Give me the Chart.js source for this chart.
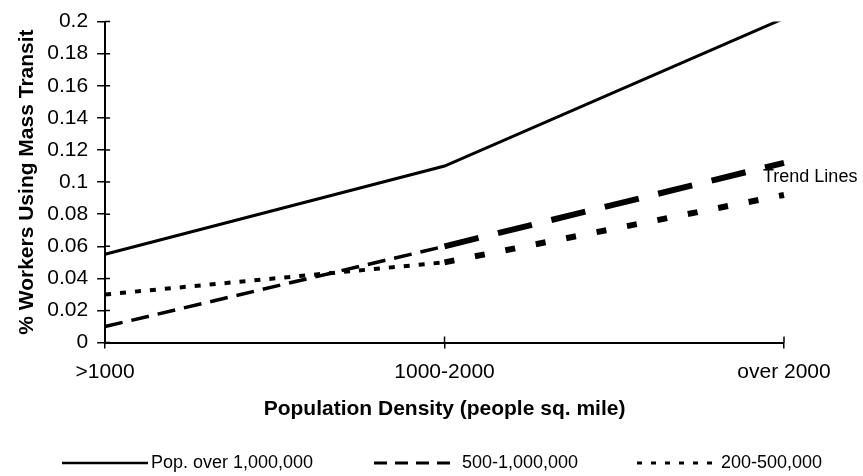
<!DOCTYPE html>
<html>
<head>
<meta charset="utf-8">
<title>Mass transit use by population density</title>
<script src="https://cdn.jsdelivr.net/npm/chart.js@4.4.1/dist/chart.umd.min.js"></script>
<style>
  html, body { margin: 0; padding: 0; background: #fff; }
  #wrap { width: 863px; height: 476px; position: relative; }
</style>
</head>
<body>
<div id="wrap"><canvas id="myChart"></canvas></div>
<script>
// data
const categories = ['>1000', '1000-2000', 'over 2000'];
const popOver1M = [0.055, 0.11, 0.202];
const pop500kTo1M = [0.01, 0.06, 0.112];
const pop200kTo500k = [0.03, 0.05, 0.092];
const seriesNames = ['Pop. over 1,000,000', '500-1,000,000', '200-500,000'];
const yTickValues = [0, 0.02, 0.04, 0.06, 0.08, 0.1, 0.12, 0.14, 0.16, 0.18, 0.2];
const yTickLabels = ['0', '0.02', '0.04', '0.06', '0.08', '0.1', '0.12', '0.14', '0.16', '0.18', '0.2'];
const trendText = 'Trend Lines';

const FONT = "'Liberation Sans', Arial, Helvetica, sans-serif";
Chart.defaults.font.family = FONT;
Chart.defaults.color = '#000';

// the segment after the middle point is the (thicker) trend part
const isTrend = c => c.p0DataIndex >= 1;

// little ticks on the inside of the axes, the legend and the "Trend Lines" note
const extras = {
    id: 'extras',
    afterDraw(chart) {
        const ctx = chart.ctx;
        const a = chart.chartArea;
        const x = chart.scales.x, y = chart.scales.y;
        ctx.save();
        ctx.strokeStyle = '#000';
        ctx.lineWidth = 1.5;
        ctx.beginPath();
        yTickValues.forEach(v => {
            const py = y.getPixelForValue(v);
            ctx.moveTo(a.left, py);
            ctx.lineTo(a.left + 5, py);
        });
        categories.forEach((c, i) => {
            const px = x.getPixelForValue(i);
            ctx.moveTo(px, a.bottom);
            ctx.lineTo(px, a.bottom - 6);
        });
        ctx.stroke();

        ctx.fillStyle = '#000';
        ctx.font = '18px ' + FONT;
        ctx.textBaseline = 'middle';
        ctx.textAlign = 'left';
        ctx.fillText(trendText, x.getPixelForValue(2) - 21, y.getPixelForValue(0.103));

        // legend
        const lineX = [62, 374, 637];
        const lineEnd = [148, 450, 720];
        const textX = [151, 462, 721];
        const legendY = 463;
        const styles = [
            { w: 2.5, dash: [] },
            { w: 3, dash: [13, 8] },
            { w: 3, dash: [5, 9] }
        ];
        chart.data.datasets.forEach((ds, i) => {
            ctx.lineWidth = styles[i].w;
            ctx.setLineDash(styles[i].dash);
            ctx.beginPath();
            ctx.moveTo(lineX[i], legendY);
            ctx.lineTo(lineEnd[i], legendY);
            ctx.stroke();
            ctx.setLineDash([]);
            ctx.fillText(ds.label, textX[i], legendY);
        });
        ctx.restore();
    }
};

const ctx = document.getElementById('myChart').getContext('2d');

const myChart = new Chart(ctx, {
    type: 'line',
    data: {
        labels: categories,
        datasets: [{
            label: seriesNames[0],
            data: popOver1M,
            borderColor: '#000',
            borderWidth: 3
        }, {
            label: seriesNames[1],
            data: pop500kTo1M,
            borderColor: '#000',
            borderWidth: 3.5,
            segment: {
                borderWidth: c => isTrend(c) ? 6 : 3.5,
                borderDash: c => isTrend(c) ? [35, 20] : [18, 9]
            }
        }, {
            label: seriesNames[2],
            data: pop200kTo500k,
            borderColor: '#000',
            borderWidth: 4,
            segment: {
                borderWidth: c => isTrend(c) ? 6 : 4,
                borderDash: c => isTrend(c) ? [10, 21] : [6, 9]
            }
        }]
    },
    options: {
        responsive: true,
        maintainAspectRatio: false,
        animation: false,
        elements: {
            point: { radius: 0, hoverRadius: 0 },
            line: { tension: 0, borderCapStyle: 'butt' }
        },
        layout: {
            padding: { top: 14, left: 8, right: 79, bottom: 50 }
        },
        plugins: {
            legend: { display: false },
            tooltip: { enabled: false }
        },
        scales: {
            x: {
                type: 'category',
                offset: false,
                grid: { drawOnChartArea: false, tickLength: 6, color: '#000', lineWidth: 1.5 },
                border: { color: '#000', width: 2 },
                ticks: {
                    padding: 11,
                    maxRotation: 0,
                    font: { size: 21 }
                },
                title: {
                    display: true,
                    text: 'Population Density (people sq. mile)',
                    font: { size: 21, weight: 'bold' },
                    padding: { top: 1, bottom: 4 }
                }
            },
            y: {
                min: 0,
                max: 0.2,
                afterBuildTicks: s => { s.ticks = yTickValues.map(v => ({ value: v })); },
                grid: { drawOnChartArea: false, tickLength: 8, color: '#000', lineWidth: 1.5 },
                border: { color: '#000', width: 2 },
                ticks: {
                    padding: 9,
                    font: { size: 21 },
                    callback: (v, i) => yTickLabels[i]
                },
                title: {
                    display: true,
                    text: '% Workers Using Mass Transit',
                    font: { size: 21, weight: 'bold' },
                    padding: { top: 7, bottom: -2 }
                }
            }
        }
    },
    plugins: [extras]
});
</script>
</body>
</html>
